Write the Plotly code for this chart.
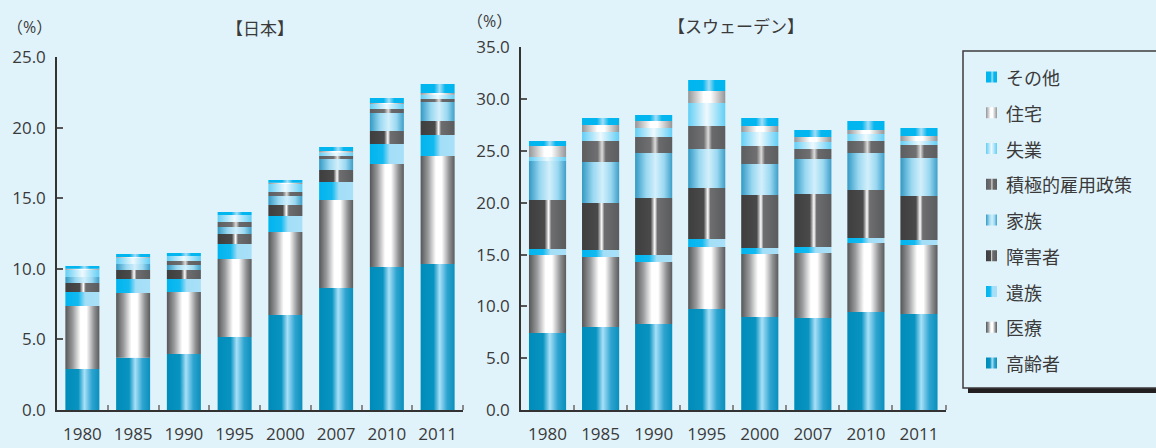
import plotly.graph_objects as go

W, H = 1156, 448
BG = "#E1F3FA"
FONT = "Open Sans, Noto Sans CJK JP, sans-serif"
TXT = "#3a3a3a"

years = ["1980", "1985", "1990", "1995", "2000", "2007", "2010", "2011"]
series = ["高齢者", "医療", "遺族", "障害者", "家族", "積極的雇用政策", "失業", "住宅", "その他"]

# 社会支出の対GDP比（%）— 日本
jp_elderly = [2.90, 3.71, 3.97, 5.17, 6.73, 8.65, 10.14, 10.35]
jp_health = [4.47, 4.58, 4.39, 5.53, 5.89, 6.24, 7.30, 7.65]
jp_survivors = [0.99, 1.00, 0.93, 1.07, 1.13, 1.27, 1.41, 1.49]
jp_disability = [0.64, 0.63, 0.63, 0.70, 0.78, 0.85, 0.93, 0.99]
jp_family = [0.43, 0.43, 0.36, 0.50, 0.64, 0.78, 1.27, 1.35]
jp_almp = [0.00, 0.00, 0.28, 0.36, 0.28, 0.21, 0.29, 0.21]
jp_unemployment = [0.52, 0.45, 0.36, 0.49, 0.57, 0.26, 0.35, 0.31]
jp_housing = [0.07, 0.04, 0.00, 0.00, 0.09, 0.10, 0.07, 0.12]
jp_other = [0.19, 0.22, 0.21, 0.21, 0.19, 0.28, 0.35, 0.64]

# 社会支出の対GDP比（%）— スウェーデン
se_elderly = [7.43, 8.01, 8.30, 9.75, 8.97, 8.88, 9.46, 9.26]
se_health = [7.53, 6.75, 5.98, 5.98, 6.08, 6.27, 6.65, 6.66]
se_survivors = [0.58, 0.68, 0.68, 0.77, 0.58, 0.58, 0.49, 0.48]
se_disability = [4.72, 4.53, 5.50, 4.92, 5.12, 5.11, 4.63, 4.25]
se_family = [3.77, 3.96, 4.34, 3.77, 2.99, 3.38, 3.57, 3.67]
se_almp = [0.00, 2.03, 1.54, 2.21, 1.74, 0.97, 1.16, 1.25]
se_unemployment = [0.38, 0.87, 0.87, 2.22, 1.35, 0.67, 0.67, 0.39]
se_housing = [1.06, 0.67, 0.68, 1.16, 0.57, 0.48, 0.39, 0.48]
se_other = [0.49, 0.68, 0.58, 1.06, 0.78, 0.68, 0.87, 0.77]

japan = [jp_elderly, jp_health, jp_survivors, jp_disability, jp_family,
         jp_almp, jp_unemployment, jp_housing, jp_other]
sweden = [se_elderly, se_health, se_survivors, se_disability, se_family,
          se_almp, se_unemployment, se_housing, se_other]

# horizontal gradient (left -> right) used for each category
gradients = {
    "高齢者": [[0, "#008CBA"], [0.38, "#0893C0"], [0.56, "#A8E0F8"], [0.78, "#2EA4D0"], [1, "#0A8FBC"]],
    "医療": [[0, "#555658"], [0.22, "#9A9B9D"], [0.45, "#FFFFFF"], [0.62, "#FFFFFF"], [0.85, "#8E8F91"], [1, "#5A5B5D"]],
    "遺族": [[0, "#00B4EE"], [0.38, "#12BAF0"], [0.58, "#A3DEF7"], [1, "#A8E0F8"]],
    "障害者": [[0, "#3E3E3F"], [0.42, "#4A4A4B"], [0.53, "#FFFFFF"], [0.6, "#6E6E70"], [1, "#5A5B5D"]],
    "家族": [[0, "#3399C4"], [0.3, "#9AD8F1"], [0.55, "#D2EFFB"], [0.78, "#9AD8F1"], [1, "#3E9EC8"]],
    "積極的雇用政策": [[0, "#5C5D5F"], [0.42, "#707072"], [0.54, "#DCDCDC"], [0.64, "#6A6A6C"], [1, "#5C5D5F"]],
    "失業": [[0, "#62CEF5"], [0.5, "#EEF9FE"], [1, "#62CEF5"]],
    "住宅": [[0, "#949597"], [0.42, "#FFFFFF"], [0.6, "#FFFFFF"], [1, "#949597"]],
    "その他": [[0, "#00B5EF"], [0.4, "#03B6EF"], [0.56, "#A2DDF6"], [0.72, "#06B7EF"], [1, "#00B5EF"]],
}


def rect_trace(x0, x1, y0, y1, name, xa, ya):
    return go.Scatter(
        x=[x0, x1, x1, x0, x0], y=[y0, y0, y1, y1, y0],
        mode="none", fill="toself",
        fillgradient=dict(type="horizontal", colorscale=gradients[name]),
        name=name, showlegend=False, hoveron="fills",
        xaxis=xa, yaxis=ya,
    )


fig = go.Figure()


def add_stack(data, half, xa, ya):
    for i in range(len(years)):
        base = 0.0
        for name, vals in zip(series, data):
            v = vals[i]
            if v > 0:
                fig.add_trace(rect_trace(i - half, i + half, base, base + v, name, xa, ya))
            base += v


add_stack(japan, 0.335, "x", "y")
add_stack(sweden, 0.35, "x2", "y2")

# legend swatches on a hidden pixel-scaled axis
row_y0, row_step = 77.0, 35.75
legend_order = series[::-1]
for k, name in enumerate(legend_order):
    yc = row_y0 + k * row_step
    fig.add_trace(rect_trace(986, 997, yc - 5.5, yc + 5.5, name, "x3", "y3"))

bottom = 1 - 410 / H


def xaxis_cfg(x0px, x1px, anchor):
    return dict(
        domain=[x0px / W, x1px / W], range=[-0.5, 7.5], anchor=anchor,
        tickmode="array", tickvals=list(range(len(years))), ticktext=years,
        ticks="", showgrid=False, zeroline=False,
        showline=True, linecolor="#333333", linewidth=1.5,
        tickfont=dict(family=FONT, size=17, color=TXT),
        ticklabelstandoff=8,
        minor=dict(tickmode="array", tickvals=[i + 0.5 for i in range(len(years))],
                   ticks="inside", ticklen=5, tickcolor="#8a8a8a", tickwidth=1.5),
    )


def yaxis_cfg(top_px, vmax, anchor):
    return dict(
        domain=[bottom, 1 - top_px / H], range=[0, vmax], anchor=anchor,
        tickmode="array", tickvals=[v for v in range(0, int(vmax) + 1, 5)],
        tickformat=".1f", ticks="inside", ticklen=6, tickcolor="#555555", tickwidth=1.5,
        showgrid=False, zeroline=False,
        showline=True, linecolor="#333333", linewidth=1.5,
        tickfont=dict(family=FONT, size=17, color=TXT),
        ticklabelstandoff=6,
    )


shapes = [
    dict(type="rect", xref="paper", yref="paper", layer="below",
         x0=968 / W, x1=1.01, y0=1 - 393 / H, y1=1 - 383 / H,
         fillcolor="#231F20", line=dict(width=0)),
    dict(type="rect", xref="paper", yref="paper", layer="below",
         x0=963 / W, x1=1.01, y0=1 - 388 / H, y1=1 - 51 / H,
         fillcolor=BG, line=dict(color="#3d3d3d", width=1.5)),
]

annotations = [
    dict(text="【日本】", x=260 / W, y=1 - 28 / H, xref="paper", yref="paper",
         showarrow=False, xanchor="center", yanchor="middle",
         font=dict(family=FONT, size=17, color=TXT)),
    dict(text="【スウェーデン】", x=736 / W, y=1 - 27 / H, xref="paper", yref="paper",
         showarrow=False, xanchor="center", yanchor="middle",
         font=dict(family=FONT, size=17, color=TXT)),
    dict(text="（%）", x=29 / W, y=1 - 27 / H, xref="paper", yref="paper",
         showarrow=False, xanchor="center", yanchor="middle",
         font=dict(family=FONT, size=16, color=TXT)),
    dict(text="（%）", x=489 / W, y=1 - 21 / H, xref="paper", yref="paper",
         showarrow=False, xanchor="center", yanchor="middle",
         font=dict(family=FONT, size=16, color=TXT)),
]
for k, name in enumerate(legend_order):
    annotations.append(dict(
        text=name, x=1004, y=row_y0 + k * row_step + 1, xref="x3", yref="y3",
        showarrow=False, xanchor="left", yanchor="middle",
        font=dict(family=FONT, size=18, color=TXT)))

fig.update_layout(
    width=W, height=H,
    margin=dict(l=0, r=0, t=0, b=0, autoexpand=False),
    paper_bgcolor=BG, plot_bgcolor="rgba(0,0,0,0)",
    showlegend=False,
    xaxis=xaxis_cfg(57, 463, "y"),
    yaxis=yaxis_cfg(57.3, 25, "x"),
    xaxis2=xaxis_cfg(521, 945.5, "y2"),
    yaxis2=yaxis_cfg(47.3, 35, "x2"),
    xaxis3=dict(domain=[0, 1], range=[0, W], visible=False, fixedrange=True, anchor="y3"),
    yaxis3=dict(domain=[0, 1], range=[H, 0], visible=False, fixedrange=True, anchor="x3"),
    shapes=shapes,
    annotations=annotations,
)

fig.write_html("out.html")
